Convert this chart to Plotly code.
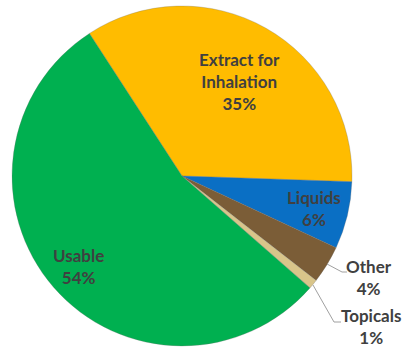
import plotly.graph_objects as go

labels = ["Extract for<br>Inhalation", "Liquids", "Other", "Topicals", "Usable"]
values = [34.7, 6.4, 3.6, 0.9, 54.4]
pct_labels = ["35%", "6%", "4%", "1%", "54%"]
colors = ["#FFBC00", "#0A6FC4", "#7B5D37", "#D9C58A", "#00B050"]

W, H = 405, 349

def px(x):
    return x / W

def py(y):
    return 1 - y / H

fig = go.Figure(go.Pie(
    labels=labels,
    values=values,
    sort=False,
    direction="clockwise",
    rotation=-33,
    marker=dict(colors=colors, line=dict(color="rgba(110,110,110,0.35)", width=0.8)),
    textinfo="none",
    hoverinfo="skip",
    showlegend=False,
    domain=dict(x=[px(12), px(352)], y=[py(346), py(6)]),
))

# label positions (pixel centres)
label_pos = [(239, 82), (314, 208), (369, 277), (371, 326), (78, 266)]
font = dict(family="Lato, 'Open Sans', sans-serif", size=17, color="#404040")
for lab, pct, (x, y) in zip(labels, pct_labels, label_pos):
    fig.add_annotation(
        x=px(x), y=py(y), xref="paper", yref="paper",
        text="<b>" + lab.replace("<br>", "</b><br><b>") + "</b><br><b>" + pct + "</b>",
        showarrow=False, font=font, align="center",
        xanchor="center", yanchor="middle",
    )

# leader lines for small slices
leader_lines = [
    [(327, 264), (342, 272), (347, 272)],
    [(313, 285), (334, 322), (341, 322)],
]
for pts in leader_lines:
    path = "M " + " L ".join(f"{px(x)},{py(y)}" for x, y in pts)
    fig.add_shape(type="path", path=path, xref="paper", yref="paper",
                  line=dict(color="#A0A0A0", width=1))

fig.update_layout(
    width=W, height=H,
    margin=dict(l=0, r=0, t=0, b=0),
    paper_bgcolor="white",
    plot_bgcolor="white",
)

fig.write_html("out.html")
